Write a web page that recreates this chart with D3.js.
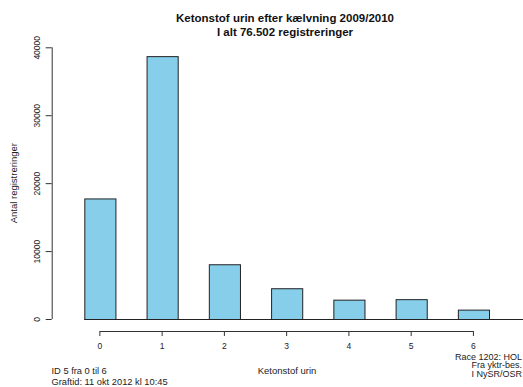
<!DOCTYPE html>
<html>
<head>
<meta charset="utf-8">
<script src="https://cdn.jsdelivr.net/npm/d3@7"></script>
<style>
  html, body { margin: 0; padding: 0; background: #fff; }
  svg { display: block; font-family: "Liberation Sans", Arial, sans-serif; }
</style>
</head>
<body>
<svg id="chart" width="523" height="387"></svg>
<script>
const categories = ["0", "1", "2", "3", "4", "5", "6"];
const values = [17750, 38700, 8060, 4530, 2850, 2920, 1380];
const yTicks = [0, 10000, 20000, 30000, 40000];
const titleLines = ["Ketonstof urin efter kælvning 2009/2010", "I alt 76.502 registreringer"];
const xLabel = "Ketonstof urin";
const yLabel = "Antal registreringer";
const leftNotes = ["ID 5 fra 0 til 6", "Graftid: 11 okt 2012 kl 10:45"];
const rightNotes = ["Race 1202: HOL", "Fra yktr-bes.", "I NySR/OSR"];

const svg = d3.select("#chart");

const x = d3.scaleBand().domain(categories).range([84.3, 489]).paddingInner(0.5).paddingOuter(0);
const y = d3.scaleLinear().domain([0, 40000]).range([319, 47.3]);

// bars
svg.append("g").selectAll("rect").data(values).join("rect")
  .attr("x", (d, i) => x(categories[i]) + 0.5)
  .attr("y", d => y(d) + 0.5)
  .attr("width", x.bandwidth())
  .attr("height", d => y(0) - y(d))
  .attr("fill", "#87CEEB")
  .attr("stroke", "#222")
  .attr("stroke-width", 1);

// baseline
svg.append("line")
  .attr("x1", x(categories[0])).attr("x2", 523)
  .attr("y1", y(0) + 0.5).attr("y2", y(0) + 0.5)
  .attr("stroke", "#222");

// x axis
const xCenter = c => x(c) + x.bandwidth() / 2;
const gx = svg.append("g").attr("transform", "translate(0,331)")
  .call(d3.axisBottom(x).tickSizeOuter(0).tickSize(5).tickPadding(7));
gx.select(".domain").attr("d", `M${xCenter(categories[0])},0.5H${xCenter(categories[categories.length - 1])}`).attr("stroke", "#333");
gx.selectAll(".tick line").attr("stroke", "#333");
gx.selectAll(".tick text").attr("font-size", 8.5).attr("fill", "#222").attr("font-family", "Liberation Sans, Arial, sans-serif");

// y axis
const gy = svg.append("g").attr("transform", "translate(51.7,0)")
  .call(d3.axisLeft(y).tickValues(yTicks).tickFormat(d3.format("d")).tickSizeOuter(0).tickSize(6));
gy.select(".domain").attr("d", `M0.5,${y(0)}V${y(40000)}`).attr("stroke", "#333");
gy.selectAll(".tick line").attr("stroke", "#333");
gy.selectAll(".tick text")
  .attr("font-size", 8.5).attr("fill", "#222").attr("font-family", "Liberation Sans, Arial, sans-serif")
  .attr("x", null).attr("dy", null)
  .attr("text-anchor", "middle")
  .attr("transform", "translate(-12,0) rotate(-90)");

// title
svg.append("g").selectAll("text").data(titleLines).join("text")
  .attr("x", 285).attr("y", (d, i) => 22 + i * 14)
  .attr("text-anchor", "middle")
  .attr("font-weight", "bold")
  .attr("font-size", 11.5)
  .attr("fill", "#111")
  .text(d => d);

// axis labels
svg.append("text").attr("x", 287).attr("y", 374)
  .attr("text-anchor", "middle").attr("font-size", 9.5).attr("fill", "#222").text(xLabel);
svg.append("text").attr("transform", `translate(17,${(y(0) + y(40000)) / 2}) rotate(-90)`)
  .attr("text-anchor", "middle").attr("font-size", 9.5).attr("fill", "#222").text(yLabel);

// notes
svg.append("g").selectAll("text").data(leftNotes).join("text")
  .attr("x", 51.5).attr("y", (d, i) => 374 + i * 11)
  .attr("font-size", 9.3).attr("fill", "#222").text(d => d);
svg.append("g").selectAll("text").data(rightNotes).join("text")
  .attr("x", 522).attr("y", (d, i) => 359.5 + i * 8.5)
  .attr("text-anchor", "end")
  .attr("font-size", 9).attr("fill", "#222").text(d => d);
</script>
</body>
</html>
